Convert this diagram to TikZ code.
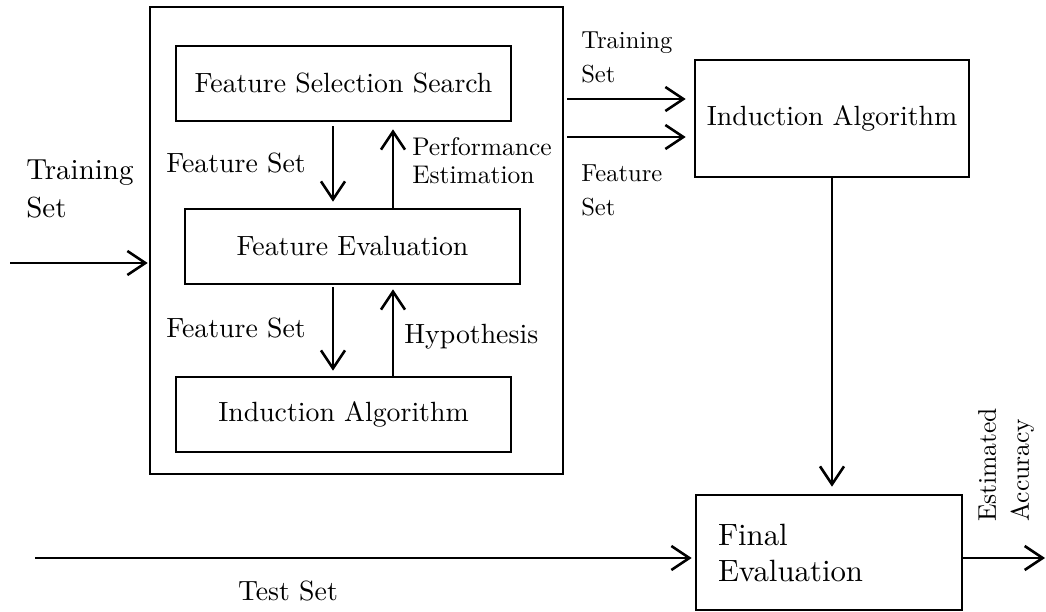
\documentclass[tikz,border=0pt]{standalone}
\usepackage{fontspec}
\setmainfont{lmroman10-regular}[Extension=.otf]
\usetikzlibrary{arrows.meta}
\begin{document}
\begin{tikzpicture}[x=1pt,y=-1pt,
  line width=2.6pt,
  arr/.style={-{Straight Barb[length=18pt,width=24pt,line width=2.6pt]}},
  box/.style={draw, inner sep=0pt, font=\fontsize{27.8}{34}\selectfont},
  lbl/.style={inner sep=0pt, align=left, anchor=west},
  sgl/.style={inner sep=0pt, anchor=base west, font=\fontsize{27.8}{34}\selectfont},
]
\useasboundingbox (0,0) rectangle (1046,612);
% boxes
\node[box, minimum width=413pt, minimum height=467pt] (outer) at (356.5,240.5) {};
\node[box, minimum width=335pt, minimum height=75pt] (fss) at (343.5,83.5) {Feature Selection Search};
\node[box, minimum width=335pt, minimum height=75pt] (fe) at (352.5,246.5) {Feature Evaluation};
\node[box, minimum width=335pt, minimum height=75pt] (ia) at (343.5,414.5) {Induction Algorithm};
\node[box, minimum width=274pt, minimum height=117pt] (iar) at (832,118.5) {Induction Algorithm};
\node[box, minimum width=266pt, minimum height=115pt, text width=222pt, align=left,
      font=\fontsize{30.8}{36}\selectfont] (fin) at (829,552.5) {Final\\Evaluation};
% helper coordinates
\coordinate (inL) at (10,263);
\coordinate (xd) at (333,0);
\coordinate (xu) at (393,0);
\coordinate (r1) at (0,99);
\coordinate (r2) at (0,137);
\coordinate (tsL) at (35,558);
\coordinate (outR) at (1046,558);
% connectors
\draw[arr, shorten >=1pt] (inL) -- (inL -| outer.west);
\draw[arr, shorten <=4pt, shorten >=6pt] (fss.south -| xd) -- (fe.north -| xd);
\draw[arr, shorten >=7pt] (fe.north -| xu) -- (fss.south -| xu);
\draw[arr, shorten <=2pt, shorten >=5pt] (fe.south -| xd) -- (ia.north -| xd);
\draw[arr, shorten >=4pt] (ia.north -| xu) -- (fe.south -| xu);
\draw[arr, shorten <=3pt, shorten >=8pt] (outer.east |- r1) -- (iar.west |- r1);
\draw[arr, shorten <=3pt, shorten >=8pt] (outer.east |- r2) -- (iar.west |- r2);
\draw[arr, shorten >=7pt] (iar.south) -- (iar.south |- fin.north);
\draw[arr, shorten >=3pt] (tsL) -- (tsL -| fin.west);
\draw[arr, shorten >=1pt] (fin.east |- outR) -- (outR);
% labels
\node[lbl, font=\fontsize{29}{38}\selectfont] (ltr) at (25,189) {Training\\Set};
\node[lbl, font=\fontsize{24.6}{34}\selectfont] (rtr) at (580,57) {Training\\Set};
\node[lbl, font=\fontsize{24.6}{34}\selectfont] (rfs) at (580,190) {Feature\\Set};
\node[lbl, font=\fontsize{25.5}{28}\selectfont] (perf) at (411,161) {Performance\\Estimation};
\node[sgl] (fs1) at (165,173) {Feature Set};
\node[sgl] (fs2) at (165,337) {Feature Set};
\node[sgl] (hyp) at (403,343) {Hypothesis};
\node[sgl, anchor=base] (ts) at (288,600) {Test Set};
\node[lbl, rotate=90, font=\fontsize{25.5}{33}\selectfont] (ea) at (1006,523) {Estimated\\Accuracy};
\end{tikzpicture}
\end{document}
